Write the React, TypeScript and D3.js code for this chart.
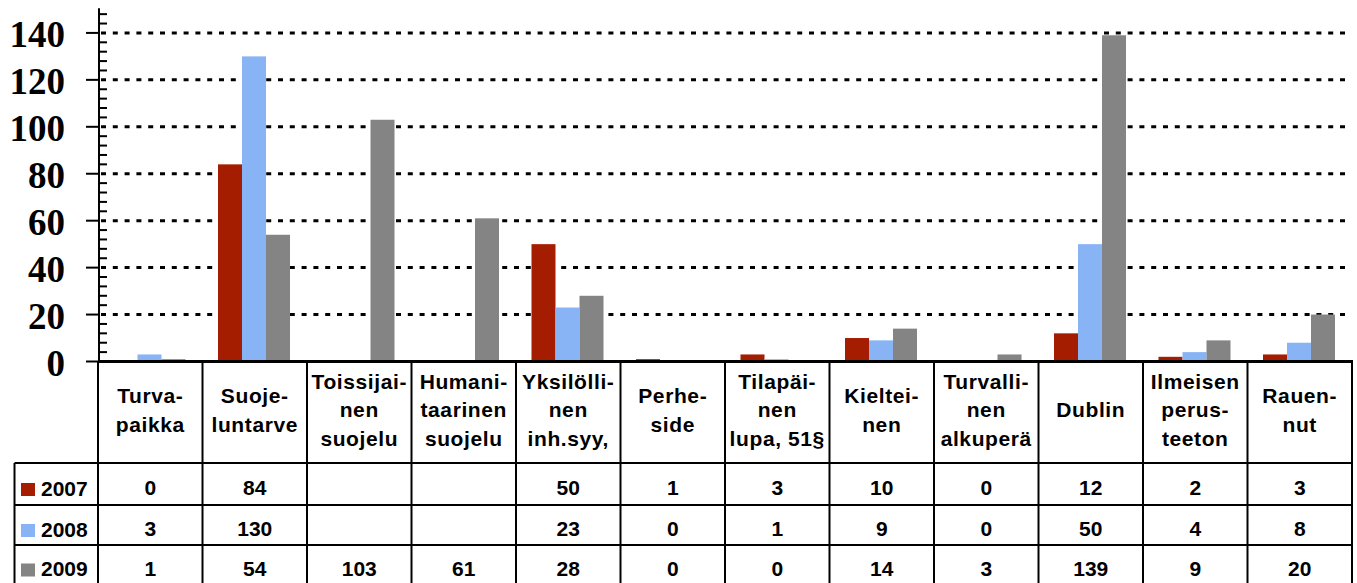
import React, { useEffect, useRef } from 'react';
import * as d3 from 'd3';

// Categories (header lines of the data table)
const categories: string[][] = [
  ['Turva-', 'paikka'],
  ['Suoje-', 'luntarve'],
  ['Toissijai-', 'nen', 'suojelu'],
  ['Humani-', 'taarinen', 'suojelu'],
  ['Yksilölli-', 'nen', 'inh.syy,'],
  ['Perhe-', 'side'],
  ['Tilapäi-', 'nen', 'lupa, 51§'],
  ['Kieltei-', 'nen'],
  ['Turvalli-', 'nen', 'alkuperä'],
  ['Dublin'],
  ['Ilmeisen', 'perus-', 'teeton'],
  ['Rauen-', 'nut'],
];

const series = ['2007', '2008', '2009'];
const seriesColors = ['#A51D00', '#88B4F6', '#848484'];

const values2007: (number | null)[] = [0, 84, null, null, 50, 1, 3, 10, 0, 12, 2, 3];
const values2008: (number | null)[] = [3, 130, null, null, 23, 0, 1, 9, 0, 50, 4, 8];
const values2009: (number | null)[] = [1, 54, 103, 61, 28, 0, 0, 14, 3, 139, 9, 20];

const yTicks = [0, 20, 40, 60, 80, 100, 120, 140];

const W = 1357;
const H = 583;

const App: React.FC = () => {
  const svgRef = useRef<SVGSVGElement>(null);

  useEffect(() => {
    if (!svgRef.current) return;
    const svg = d3.select(svgRef.current);
    svg.selectAll('*').remove();

    const allSeries = [values2007, values2008, values2009];
    const idx = categories.map((_, i) => i);

    const axisX = 99;
    const tableRight = 1352;
    const baseY = 361.5;

    const x = d3.scaleBand<number>().domain(idx).range([98, tableRight]).padding(0);
    const xInner = d3.scaleBand<number>().domain([0, 1, 2]).range([15.5, 87.5]).padding(0);
    const y = d3.scaleLinear().domain([0, 150]).range([baseY, baseY - 150 * 2.347]);

    // gridlines
    svg.append('g')
      .selectAll('line')
      .data(yTicks.filter((t) => t > 0))
      .join('line')
      .attr('x1', axisX + 2)
      .attr('x2', 1348)
      .attr('y1', (d) => y(d))
      .attr('y2', (d) => y(d))
      .attr('stroke', '#000')
      .attr('stroke-width', 3)
      .attr('stroke-dasharray', '5 6.8');

    // bars
    allSeries.forEach((vals, s) => {
      svg.append('g')
        .selectAll('rect')
        .data(idx.filter((i) => vals[i] !== null && (vals[i] as number) > 0))
        .join('rect')
        .attr('x', (i) => (x(i) as number) + (xInner(s) as number))
        .attr('width', xInner.bandwidth())
        .attr('y', (i) => y(vals[i] as number))
        .attr('height', (i) => baseY - y(vals[i] as number))
        .attr('fill', seriesColors[s]);
    });

    // y axis
    const ax = svg.append('g').attr('stroke', '#000');
    ax.append('line')
      .attr('x1', axisX).attr('x2', axisX)
      .attr('y1', y(150.5)).attr('y2', baseY)
      .attr('stroke-width', 2);
    ax.selectAll('line.major')
      .data(yTicks)
      .join('line')
      .attr('class', 'major')
      .attr('x1', 86).attr('x2', axisX)
      .attr('y1', (d) => y(d)).attr('y2', (d) => y(d))
      .attr('stroke-width', 2);
    ax.selectAll('line.minor')
      .data(d3.range(4, 150, 4).filter((v) => v % 20 !== 0))
      .join('line')
      .attr('class', 'minor')
      .attr('x1', axisX).attr('x2', 107)
      .attr('y1', (d) => y(d)).attr('y2', (d) => y(d))
      .attr('stroke-width', 2);

    svg.append('g')
      .selectAll('text')
      .data(yTicks)
      .join('text')
      .attr('x', 65)
      .attr('y', (d) => y(d) + 14)
      .attr('text-anchor', 'end')
      .attr('font-family', '"Liberation Serif", "Times New Roman", serif')
      .attr('font-weight', 'bold')
      .attr('font-size', 37)
      .text((d) => d);

    // data table
    const headerBottom = 463;
    const rowLines = [505, 545];
    const tableBottom = 584;
    const legendLeft = 14.5;
    const t = svg.append('g').attr('stroke', '#000').attr('stroke-width', 2);

    // horizontal lines
    t.append('line').attr('x1', 98).attr('x2', tableRight + 1).attr('y1', baseY).attr('y2', baseY).attr('stroke-width', 3);
    t.append('line').attr('x1', legendLeft).attr('x2', tableRight + 1).attr('y1', headerBottom).attr('y2', headerBottom);
    rowLines.forEach((ly) => {
      t.append('line').attr('x1', legendLeft).attr('x2', tableRight + 1).attr('y1', ly).attr('y2', ly);
    });
    t.append('line').attr('x1', legendLeft).attr('x2', tableRight + 1).attr('y1', tableBottom).attr('y2', tableBottom);
    // vertical lines
    t.append('line').attr('x1', legendLeft).attr('x2', legendLeft).attr('y1', headerBottom).attr('y2', tableBottom);
    t.selectAll('line.col')
      .data(d3.range(categories.length + 1))
      .join('line')
      .attr('class', 'col')
      .attr('x1', (i) => (i < categories.length ? (x(i) as number) : tableRight))
      .attr('x2', (i) => (i < categories.length ? (x(i) as number) : tableRight))
      .attr('y1', baseY)
      .attr('y2', tableBottom);

    const font = '"Liberation Sans", Arial, sans-serif';

    // header labels
    const lineH = 28.5;
    const headerMid = (baseY + headerBottom) / 2;
    categories.forEach((lines, i) => {
      const cx = (x(i) as number) + x.bandwidth() / 2;
      const top = headerMid - ((lines.length - 1) * lineH) / 2;
      lines.forEach((ln, j) => {
        svg.append('text')
          .attr('x', cx)
          .attr('y', top + j * lineH + 5)
          .attr('text-anchor', 'middle')
          .attr('font-family', font)
          .attr('font-weight', 'bold')
          .attr('font-size', 21)
          .attr('letter-spacing', 0.6)
          .text(ln);
      });
    });

    // data rows
    const rowTops = [headerBottom, rowLines[0], rowLines[1]];
    const rowBots = [rowLines[0], rowLines[1], tableBottom];
    allSeries.forEach((vals, s) => {
      const mid = (rowTops[s] + rowBots[s]) / 2;
      svg.append('rect')
        .attr('x', 21)
        .attr('y', mid - 1)
        .attr('width', 14)
        .attr('height', 13)
        .attr('fill', seriesColors[s]);
      svg.append('text')
        .attr('x', 41)
        .attr('y', mid + 11.5)
        .attr('font-family', font)
        .attr('font-weight', 'bold')
        .attr('font-size', 21)
        .text(series[s]);
      vals.forEach((v, i) => {
        if (v === null) return;
        svg.append('text')
          .attr('x', (x(i) as number) + x.bandwidth() / 2)
          .attr('y', mid + 11)
          .attr('text-anchor', 'middle')
          .attr('font-family', font)
          .attr('font-weight', 'bold')
          .attr('font-size', 21)
          .text(v);
      });
    });
  }, []);

  return (
    <svg
      ref={svgRef}
      width={W}
      height={H}
      style={{ position: 'absolute', left: 0, top: 0, background: '#fff' }}
    />
  );
};

export default App;
